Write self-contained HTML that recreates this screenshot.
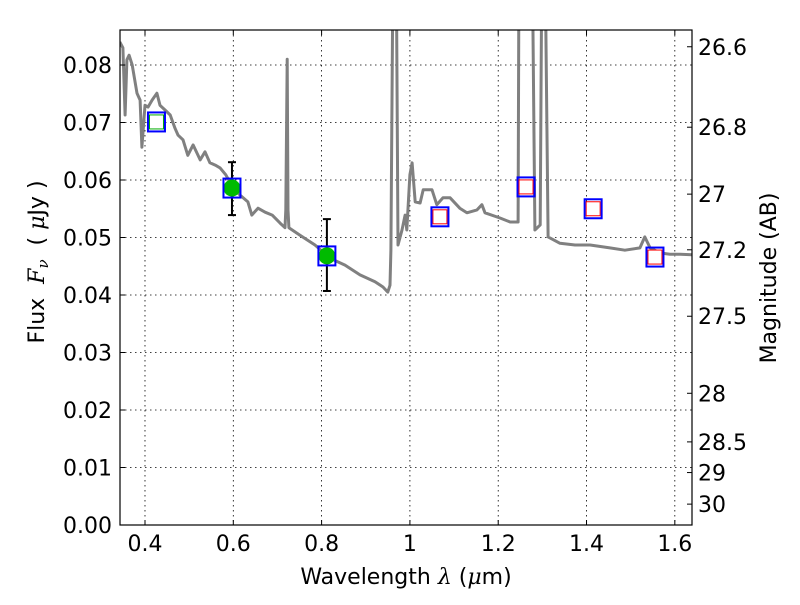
<!DOCTYPE html>
<html><head><meta charset="utf-8"><style>
html,body{margin:0;padding:0;background:#fff;}
svg text{font-family:"DejaVu Sans","Liberation Sans",sans-serif;fill:#000;}
</style></head><body>
<svg id="chart" width="800" height="600" viewBox="0 0 800 600" xmlns="http://www.w3.org/2000/svg">
<rect x="0" y="0" width="800" height="600" fill="#fff"/>
<defs><clipPath id="plotclip"><rect x="120" y="30" width="572" height="495"/></clipPath></defs>
<g id="grid"></g>
<g id="series" clip-path="url(#plotclip)"></g>
<rect x="120" y="30" width="572" height="495" fill="none" stroke="#000" stroke-width="1.2"/>
<g id="axes"></g>
<text x="406" y="584" font-size="22" text-anchor="middle">Wavelength  <tspan font-family="DejaVu Serif" font-style="italic">λ</tspan> (<tspan font-family="DejaVu Serif" font-style="italic">μ</tspan>m)</text>
<text transform="translate(44,262) rotate(-90)" font-size="22" text-anchor="middle" xml:space="preserve">Flux  <tspan font-family="DejaVu Serif" font-style="italic">F<tspan font-size="15" dy="4">ν</tspan></tspan><tspan dy="-4">  ( </tspan><tspan font-family="DejaVu Serif" font-style="italic">μ</tspan>Jy )</text>
<text transform="translate(776,278) rotate(-90)" font-size="22" text-anchor="middle">Magnitude (AB)</text>
</svg>
<script>
const specLam=[.343,.350,.355,.359,.364,.371,.382,.389,.393,.400,.407,.416,.427,.434,.445,.457,.468,.475,.486,.497,.509,.525,.536,.547,.559,.570,.583,.597,.615,.633,.642,.656,.672,.688,.706,.717,.719,.722,.724,.726,.751,.785,.819,.853,.887,.921,.939,.950,.955,.957,.962,.969,.973,.982,.989,.993,1.000,1.005,1.012,1.023,1.030,1.050,1.061,1.075,1.091,1.113,1.129,1.152,1.163,1.170,1.204,1.227,1.245,1.247,1.277,1.283,1.295,1.299,1.306,1.313,1.340,1.374,1.408,1.453,1.487,1.521,1.532,1.544,1.567,1.589,1.612,1.639];
const specFlux=[.0840,.0830,.0713,.0809,.0817,.0800,.0751,.0739,.0657,.0730,.0727,.0739,.0751,.0730,.0722,.0713,.0690,.0678,.0670,.0643,.0661,.0635,.0649,.0630,.0626,.0621,.0609,.0590,.0574,.0562,.0539,.0551,.0544,.0539,.0525,.0517,.0548,.0810,.0548,.0517,.0504,.0487,.0464,.0452,.0435,.0423,.0414,.0405,.0417,.0478,.1,.1,.0487,.0513,.0539,.0513,.0609,.0630,.0562,.0560,.0583,.0583,.0557,.0569,.0569,.0551,.0543,.0548,.0557,.0543,.0534,.0527,.0527,.1,.1,.0513,.0522,.1,.1,.0501,.0490,.0487,.0487,.0482,.0478,.0482,.0501,.0482,.0473,.0471,.0471,.0470];
const bandLam=[0.426,0.597,0.812,1.068,1.263,1.415,1.555];
const bandFlux=[0.0701,0.0586,0.0468,0.0536,0.0588,0.0550,0.0466];
const bandType=["green-open","green","green","red","red","red","red"];
const errLo=[null,0.0539,0.0407,null,null,null,null];
const errHi=[null,0.0631,0.0532,null,null,null,null];
const xTicks=[0.4,0.6,0.8,1.0,1.2,1.4,1.6];
const xTickLabels=["0.4","0.6","0.8","1","1.2","1.4","1.6"];
const yTicks=[0,0.01,0.02,0.03,0.04,0.05,0.06,0.07,0.08];
const yTickLabels=["0.00","0.01","0.02","0.03","0.04","0.05","0.06","0.07","0.08"];
const magTicks=[26.6,26.8,27,27.2,27.5,28,28.5,29,30];
const magTickLabels=["26.6","26.8","27","27.2","27.5","28","28.5","29","30"];

const X0=120,X1=692,Y0=525,Y1=30,xmin=0.3434,xmax=1.6389,ymin=0,ymax=0.08609;
const sx=v=>X0+(v-xmin)/(xmax-xmin)*(X1-X0);
const sy=v=>Y0-(v-ymin)/(ymax-ymin)*(Y0-Y1);
const magToFlux=m=>Math.pow(10,(23.9-m)/2.5);
const NS="http://www.w3.org/2000/svg";
function mk(tag,attrs,parent){const e=document.createElementNS(NS,tag);for(const k in attrs)e.setAttribute(k,attrs[k]);parent.appendChild(e);return e;}
const grid=document.getElementById('grid'),axes=document.getElementById('axes'),ser=document.getElementById('series');

xTicks.forEach((t,i)=>{const x=sx(t);
 const g=mk('line',{x1:x,x2:x,y1:Y1,y2:Y0,stroke:'#000','stroke-width':0.8,'stroke-dasharray':'1.5,3.5'},grid);
 
 
 mk('line',{x1:x,x2:x,y1:Y0,y2:Y0-5,stroke:'#000'},axes);
 mk('line',{x1:x,x2:x,y1:Y1,y2:Y1+5,stroke:'#000'},axes);
 const tx=mk('text',{x:x,y:Y0+26,'font-size':22,'text-anchor':'middle'},axes);tx.textContent=xTickLabels[i];
 
 
});
yTicks.forEach((t,i)=>{const y=sy(t);
 const g=mk('line',{x1:X0,x2:X1,y1:y,y2:y,stroke:'#000','stroke-width':0.8,'stroke-dasharray':'1.5,3.5'},grid);
 
 
 mk('line',{x1:X0,x2:X0+5,y1:y,y2:y,stroke:'#000'},axes);
 const tx=mk('text',{x:X0-8,y:y+8,'font-size':22,'text-anchor':'end'},axes);tx.textContent=yTickLabels[i];
 
 
});
magTicks.forEach((m,i)=>{const y=sy(magToFlux(m));
 mk('line',{x1:X1,x2:X1-5,y1:y,y2:y,stroke:'#000'},axes);
 const tx=mk('text',{x:X1+6,y:y+8,'font-size':22,'text-anchor':'start'},axes);tx.textContent=magTickLabels[i];
 
 
});

const pts=specLam.map((l,i)=>sx(l).toFixed(1)+','+sy(specFlux[i]).toFixed(1)).join(' ');
const line=mk('polyline',{points:pts,fill:'none',stroke:'#808080','stroke-width':3,'stroke-linejoin':'round'},ser);



bandLam.forEach((l,i)=>{const x=sx(l),y=sy(bandFlux[i]);
 if(errLo[i]!==null){const ylo=sy(errLo[i]),yhi=sy(errHi[i]);
  const eb=mk('g',{},ser);
  
  
  mk('line',{x1:x,x2:x,y1:yhi,y2:ylo,stroke:'#000','stroke-width':2},eb);
  mk('line',{x1:x-4,x2:x+4,y1:yhi,y2:yhi,stroke:'#000','stroke-width':2},eb);
  mk('line',{x1:x-4,x2:x+4,y1:ylo,y2:ylo,stroke:'#000','stroke-width':2},eb);
 }
 const t=bandType[i];
 if(t==='green'){const c=mk('circle',{cx:x,cy:y,r:8.5,fill:'#00bb00'},ser);
  
  }
 else if(t==='green-open'){const r=mk('rect',{x:x-7,y:y-7,width:14,height:14,fill:'#fff',stroke:'#00aa00','stroke-width':1},ser);
  
  }
 else {const r=mk('rect',{x:x-7,y:y-7,width:14,height:14,fill:'#fff',stroke:'#ff0000','stroke-width':1},ser);
  
  }
 const b=mk('rect',{x:x-8.5,y:y-9.5,width:17,height:19,fill:'none',stroke:'#0000ff','stroke-width':2},ser);
 
 
});
</script>
</body></html>
